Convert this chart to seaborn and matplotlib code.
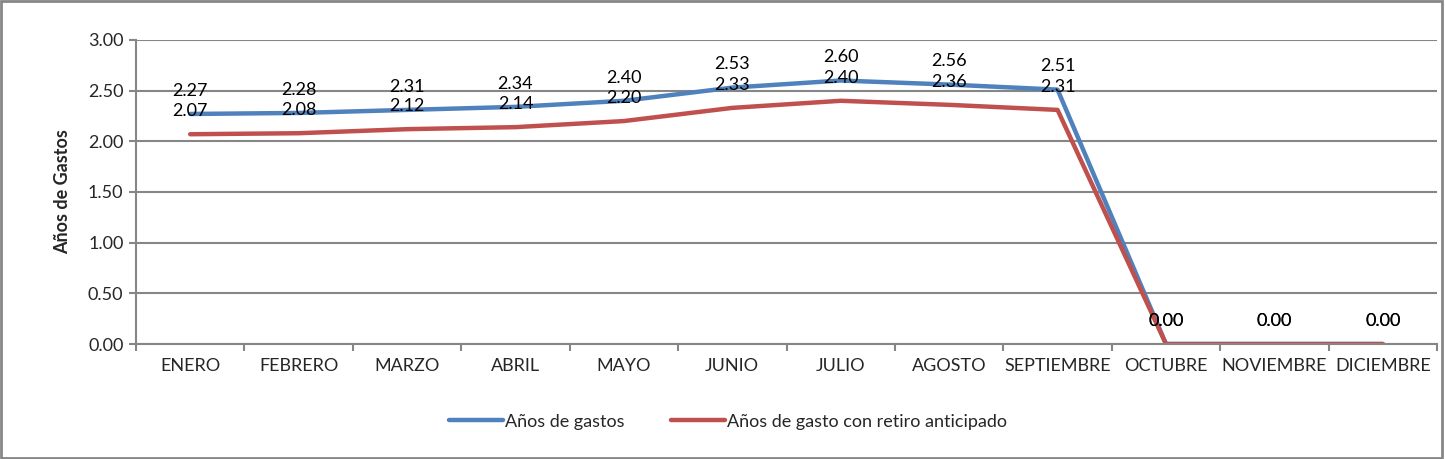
import matplotlib
matplotlib.use("Agg")
import matplotlib.pyplot as plt
import seaborn as sns
import pandas as pd
import numpy as np
from matplotlib.patches import Rectangle

months = ["ENERO", "FEBRERO", "MARZO", "ABRIL", "MAYO", "JUNIO", "JULIO",
          "AGOSTO", "SEPTIEMBRE", "OCTUBRE", "NOVIEMBRE", "DICIEMBRE"]
anos_gastos = [2.27, 2.28, 2.31, 2.34, 2.40, 2.53, 2.60, 2.56, 2.51, 0.00, 0.00, 0.00]
anos_retiro = [2.07, 2.08, 2.12, 2.14, 2.20, 2.33, 2.40, 2.36, 2.31, 0.00, 0.00, 0.00]
series_names = ["Años de gastos", "Años de gasto con retiro anticipado"]
colors = ["#4F81BD", "#C0504D"]

sns.set_theme(style="white")
plt.rcParams['font.family'] = ['Lato', 'DejaVu Sans']

FS = 13

df = pd.DataFrame({
    "mes": months * 2,
    "x": list(range(len(months))) * 2,
    "valor": anos_gastos + anos_retiro,
    "serie": [series_names[0]] * len(months) + [series_names[1]] * len(months),
})

fig = plt.figure(figsize=(14.45, 4.59), dpi=100)
ax = fig.add_axes([0.0941, 0.2505, 0.9004, 0.6624])

sns.lineplot(data=df, x="x", y="valor", hue="serie", palette=colors,
             linewidth=3.2, ax=ax, legend=True, sort=False)
ax.set_ylim(0, 3.0)
ax.set_xlim(-0.5, len(months) - 0.5)
ax.set_yticks(np.arange(0, 3.01, 0.5))
ax.set_yticklabels([f"{v:.2f}" for v in np.arange(0, 3.01, 0.5)], fontsize=FS)
ax.set_xticks(range(len(months)))
ax.set_xticklabels(months, fontsize=FS)
ax.set_xticks(np.arange(-0.5, len(months), 1.0), minor=True)
ax.tick_params(axis="x", which="major", length=0, pad=10)
ax.tick_params(axis="x", which="minor", length=5, width=1.5, color="#868686", direction="out", bottom=True)
ax.tick_params(axis="y", length=5, width=1.5, color="#868686", direction="out", left=True, pad=4)
ax.grid(axis="y", color="#868686", linewidth=1.5)
ax.set_axisbelow(True)
for s in ["top", "right"]:
    ax.spines[s].set_visible(False)
for s in ["left", "bottom"]:
    ax.spines[s].set_color("#868686")
    ax.spines[s].set_linewidth(1.5)
ax.set_xlabel("")
ax.set_ylabel("Años de Gastos", fontsize=FS, fontweight="bold", labelpad=12)

for vals in [anos_gastos, anos_retiro]:
    for i, v in enumerate(vals):
        ax.annotate(f"{v:.2f}", (i, v), xytext=(0, 11), textcoords="offset points",
                    ha="center", va="bottom", fontsize=FS, color="black")

ax.legend(title=None, loc="center", bbox_to_anchor=(0.455, -0.255), ncol=2,
          frameon=False, fontsize=FS, handlelength=3.0, handletextpad=0.1,
          columnspacing=2.6)

fig.patches.append(Rectangle((0.001, 0.002), 0.997, 0.996, transform=fig.transFigure,
                             fill=False, edgecolor="#868686", linewidth=2))

fig.savefig("out.png", dpi=100)
